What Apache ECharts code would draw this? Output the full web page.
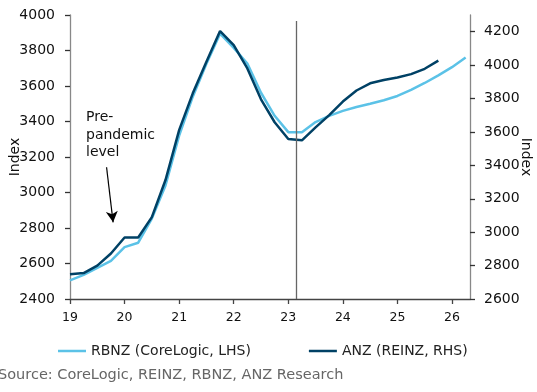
<!DOCTYPE html>
<html>
<head>
<meta charset="utf-8">
<script src="https://cdn.jsdelivr.net/npm/echarts@6/dist/echarts.min.js"></script>
<style>
html,body{margin:0;padding:0;background:#fff;}
#chart{width:537px;height:392px;}
</style>
</head>
<body>
<div id="chart"></div>
<script>
// Quarter positions (year, 2-digit)
const quarters = [19, 19.25, 19.5, 19.75, 20, 20.25, 20.5, 20.75, 21, 21.25, 21.5, 21.75,
  22, 22.25, 22.5, 22.75, 23, 23.25, 23.5, 23.75, 24, 24.25, 24.5, 24.75,
  25, 25.25, 25.5, 25.75, 26, 26.25];
// RBNZ (CoreLogic, LHS)
const rbnz = [2505, 2536, 2575, 2615, 2692, 2717, 2853, 3040, 3320, 3540, 3725, 3895,
  3815, 3727, 3562, 3432, 3340, 3340, 3397, 3432, 3460, 3482, 3500, 3520,
  3544, 3578, 3617, 3660, 3706, 3760];
// ANZ (REINZ, RHS)
const anz = [2748, 2755, 2800, 2872, 2968, 2968, 3090, 3312, 3611, 3831, 4020, 4204,
  4120, 3980, 3795, 3658, 3558, 3550, 3627, 3701, 3782, 3848, 3891, 3911,
  3926, 3946, 3978, 4027];
const xTicks = [19, 20, 21, 22, 23, 24, 25, 26];
const leftTicks = [2400, 2600, 2800, 3000, 3200, 3400, 3600, 3800, 4000];
const rightTicks = [2600, 2800, 3000, 3200, 3400, 3600, 3800, 4000, 4200];
const seriesNames = ['RBNZ (CoreLogic, LHS)', 'ANZ (REINZ, RHS)'];
const vline = 23.15;
const arrowFrom = [19.67, 3142];
const arrowTo = [19.79, 2832];

const FONT = '"DejaVu Sans", Verdana, sans-serif';
const chart = echarts.init(document.getElementById('chart'), null, {renderer: 'canvas'});
const pair = (xs, ys) => ys.map((v, i) => [xs[i], v]);

chart.setOption({
  animation: false,
  backgroundColor: '#ffffff',
  textStyle: {fontFamily: FONT},
  grid: {left: 70, right: 67, top: 15, bottom: 93, containLabel: false, outerBoundsMode: 'none'},
  legend: {
    left: 53, top: 339,
    itemGap: 58, itemWidth: 28, itemHeight: 2.5,
    icon: 'rect',
    textStyle: {fontFamily: FONT, fontSize: 14, color: '#222'},
    data: seriesNames
  },
  xAxis: {
    type: 'value', min: 19, max: 26.33,
    axisLine: {lineStyle: {color: '#444', width: 1.3}},
    axisTick: {show: true, length: 5, lineStyle: {color: '#444', width: 1.3}, customValues: xTicks},
    axisLabel: {fontFamily: FONT, fontSize: 12.5, color: '#111', margin: 12, customValues: xTicks, formatter: v => String(Math.round(v))},
    splitLine: {show: false}
  },
  yAxis: [{
    type: 'value', min: 2400, max: 4000, interval: 200, position: 'left',
    name: 'Index', nameLocation: 'middle', nameGap: 48, nameMoveOverlap: false,
    nameTextStyle: {fontFamily: FONT, fontSize: 14, color: '#111'},
    axisLine: {show: true, lineStyle: {color: '#888', width: 1.3}},
    axisTick: {show: true, length: 5, lineStyle: {color: '#333', width: 1.3}, customValues: leftTicks},
    axisLabel: {fontFamily: FONT, fontSize: 14, color: '#111', margin: 15, customValues: leftTicks, formatter: v => String(v)},
    splitLine: {show: false}
  }, {
    type: 'value', min: 2600, max: 4300, interval: 200, position: 'right',
    name: 'Index', nameLocation: 'middle', nameGap: 49, nameRotate: -90, nameMoveOverlap: false,
    nameTextStyle: {fontFamily: FONT, fontSize: 14, color: '#111'},
    axisLine: {show: true, lineStyle: {color: '#888', width: 1.3}},
    axisTick: {show: true, length: 5, lineStyle: {color: '#333', width: 1.3}, customValues: rightTicks},
    axisLabel: {fontFamily: FONT, fontSize: 14, color: '#111', margin: 14, customValues: rightTicks, formatter: v => String(v)},
    splitLine: {show: false}
  }],
  series: [{
    name: seriesNames[0], type: 'line', yAxisIndex: 0,
    data: pair(quarters, rbnz),
    showSymbol: false, symbol: 'none',
    lineStyle: {color: '#5bc2e7', width: 2.5},
    itemStyle: {color: '#5bc2e7'},
    z: 2,
    markLine: {
      silent: true, animation: false,
      label: {show: false},
      data: [
        [{coord: [vline, 2400], symbol: 'none', lineStyle: {color: '#666', width: 1.3, type: 'solid'}},
         {coord: [vline, 3966], symbol: 'none'}],
        [{coord: arrowFrom, symbol: 'none', lineStyle: {color: '#000', width: 1.2, type: 'solid'}},
         {coord: arrowTo, symbol: 'arrow', symbolSize: [9, 11]}]
      ]
    }
  }, {
    name: seriesNames[1], type: 'line', yAxisIndex: 1,
    data: pair(quarters, anz),
    showSymbol: false, symbol: 'none',
    lineStyle: {color: '#004165', width: 2.5},
    itemStyle: {color: '#004165'},
    z: 3
  }],
  graphic: [{
    type: 'text', left: 86, top: 109,
    style: {text: 'Pre-\npandemic\nlevel', fontFamily: FONT, fontSize: 14, lineHeight: 17.5, fill: '#111'}
  }, {
    type: 'text', left: -2, top: 368,
    style: {text: 'Source: CoreLogic, REINZ, RBNZ, ANZ Research', fontFamily: FONT, fontSize: 14.5, fill: '#666'}
  }]
});
</script>
</body>
</html>
